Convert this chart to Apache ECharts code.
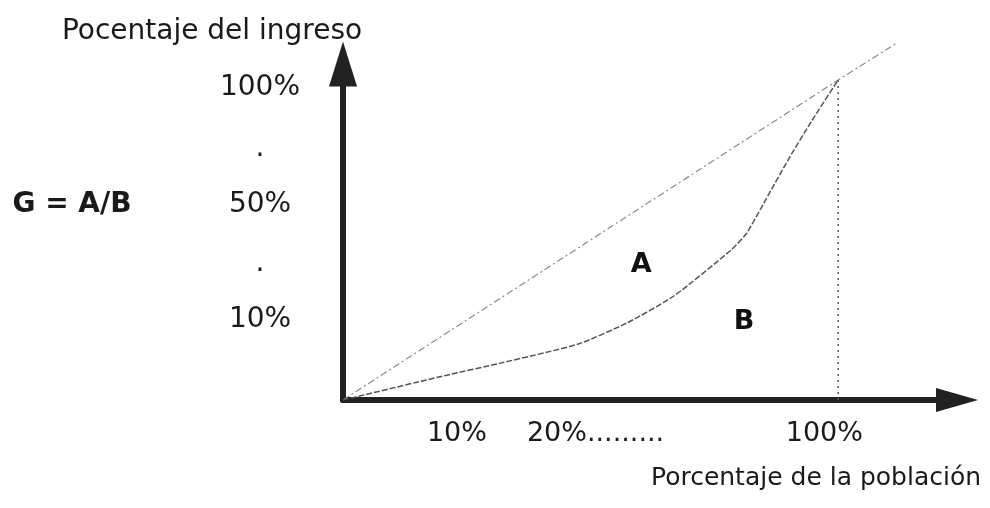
<!DOCTYPE html>
<html>
<head>
<meta charset="utf-8">
<script src="https://cdn.jsdelivr.net/npm/echarts@6/dist/echarts.min.js"></script>
<style>
    html, body { margin: 0; padding: 0; background: #fff; }
    #chart { width: 990px; height: 508px; }
</style>
</head>
<body>
<div id="chart"></div>
<script>
// curva de Lorenz (x = % población, y = % ingreso)
const lorenzX = [0, 20.5, 32.0, 47.5, 57.5, 66.8, 78.4, 81.5, 85.3, 90.0, 94.6, 100];
const lorenzY = [0, 7.6, 11.6, 17.5, 24.2, 32.5, 46.9, 52.1, 62.4, 75.3, 87.1, 100];
// recta de igualdad, se prolonga un poco despues del 100%
const equalX = [0, 100, 111.9];
const equalY = [0, 100, 111.6];
// linea vertical en el 100%
const vertX = [100, 100];
const vertY = [0, 100];
// etiquetas de los ejes (no siguen la escala, van donde estan en el dibujo)
const xTickLabels = ['10%', '20%.........', '100%'];
const xTickValues = [23, 51, 97.2];
const yTickLabels = ['10%', '\u00b7', '50%', '\u00b7', '100%'];
const yTickValues = [25, 40, 61, 76, 97.5];
// letras de las areas
const areaNames = ['A', 'B'];
const areaX = [60.2, 81];
const areaY = [42.2, 24.4];

function pairs(xs, ys) {
    let arr = [];
    for (let i = 0; i < xs.length; i++) {
        arr.push([xs[i], ys[i]]);
    }
    return arr;
}

var chartDom = document.getElementById('chart');
var myChart = echarts.init(chartDom);
var option;
var font = 'DejaVu Sans';

option = {
    backgroundColor: '#fff',
    animation: false,
    grid: {
        left: 343,
        bottom: 108,
        top: 64,
        right: 33
    },
    xAxis: {
        type: 'value',
        min: 0,
        max: 124,
        splitLine: { show: false },
        axisTick: { show: false },
        axisLine: {
            lineStyle: { color: '#222', width: 6 },
            symbol: ['none', 'triangle'],
            symbolSize: [24, 42]
        },
        axisLabel: {
            customValues: xTickValues,
            margin: 20,
            color: '#1a1a1a',
            fontFamily: font,
            fontSize: 27,
            formatter: function (v) {
                let i = xTickValues.indexOf(v);
                return i >= 0 ? xTickLabels[i] : '';
            }
        }
    },
    yAxis: {
        type: 'value',
        min: 0,
        max: 105,
        splitLine: { show: false },
        axisTick: { show: false },
        axisLine: {
            lineStyle: { color: '#222', width: 6 },
            symbol: ['none', 'triangle'],
            symbolSize: [28, 45]
        },
        axisLabel: {
            customValues: yTickValues,
            margin: 83,
            align: 'center',
            color: '#1a1a1a',
            fontFamily: font,
            fontSize: 28,
            formatter: function (v) {
                let i = yTickValues.indexOf(v);
                return i >= 0 ? yTickLabels[i] : '';
            }
        }
    },
    graphic: [
        {
            type: 'text',
            x: 212,
            y: 32,
            style: {
                text: 'Pocentaje del ingreso',
                fill: '#1a1a1a',
                font: '28px "DejaVu Sans"',
                align: 'center',
                verticalAlign: 'middle'
            }
        },
        {
            type: 'text',
            x: 816,
            y: 478,
            style: {
                text: 'Porcentaje de la población',
                fill: '#1a1a1a',
                font: '25px "DejaVu Sans"',
                align: 'center',
                verticalAlign: 'middle'
            }
        },
        {
            type: 'text',
            x: 72,
            y: 205,
            style: {
                text: 'G = A/B',
                fill: '#1a1a1a',
                font: 'bold 28px "DejaVu Sans"',
                align: 'center',
                verticalAlign: 'middle'
            }
        }
    ],
    series: [
        {
            // recta de igualdad
            type: 'line',
            data: pairs(equalX, equalY),
            clip: false,
            showSymbol: false,
            lineStyle: { color: '#8a8a8a', width: 1.2, type: [7, 3, 2, 3] },
            z: 3
        },
        {
            // curva de Lorenz
            type: 'line',
            data: pairs(lorenzX, lorenzY),
            smooth: 0.2,
            showSymbol: false,
            lineStyle: { color: '#555', width: 1.5, type: [6, 2] },
            z: 3
        },
        {
            type: 'line',
            data: pairs(vertX, vertY),
            showSymbol: false,
            lineStyle: { color: '#555', width: 1.5, type: [2, 4] },
            z: 3
        },
        {
            type: 'scatter',
            symbolSize: 0,
            itemStyle: { opacity: 1 },
            data: areaNames.map(function (n, i) {
                return { name: n, value: [areaX[i], areaY[i]] };
            }),
            label: {
                show: true,
                position: 'inside',
                formatter: '{b}',
                color: '#111',
                textBorderWidth: 0,
                fontFamily: font,
                fontWeight: 'bold',
                fontSize: 27
            },
            z: 4
        }
    ]
};

option && myChart.setOption(option);
</script>
</body>
</html>
